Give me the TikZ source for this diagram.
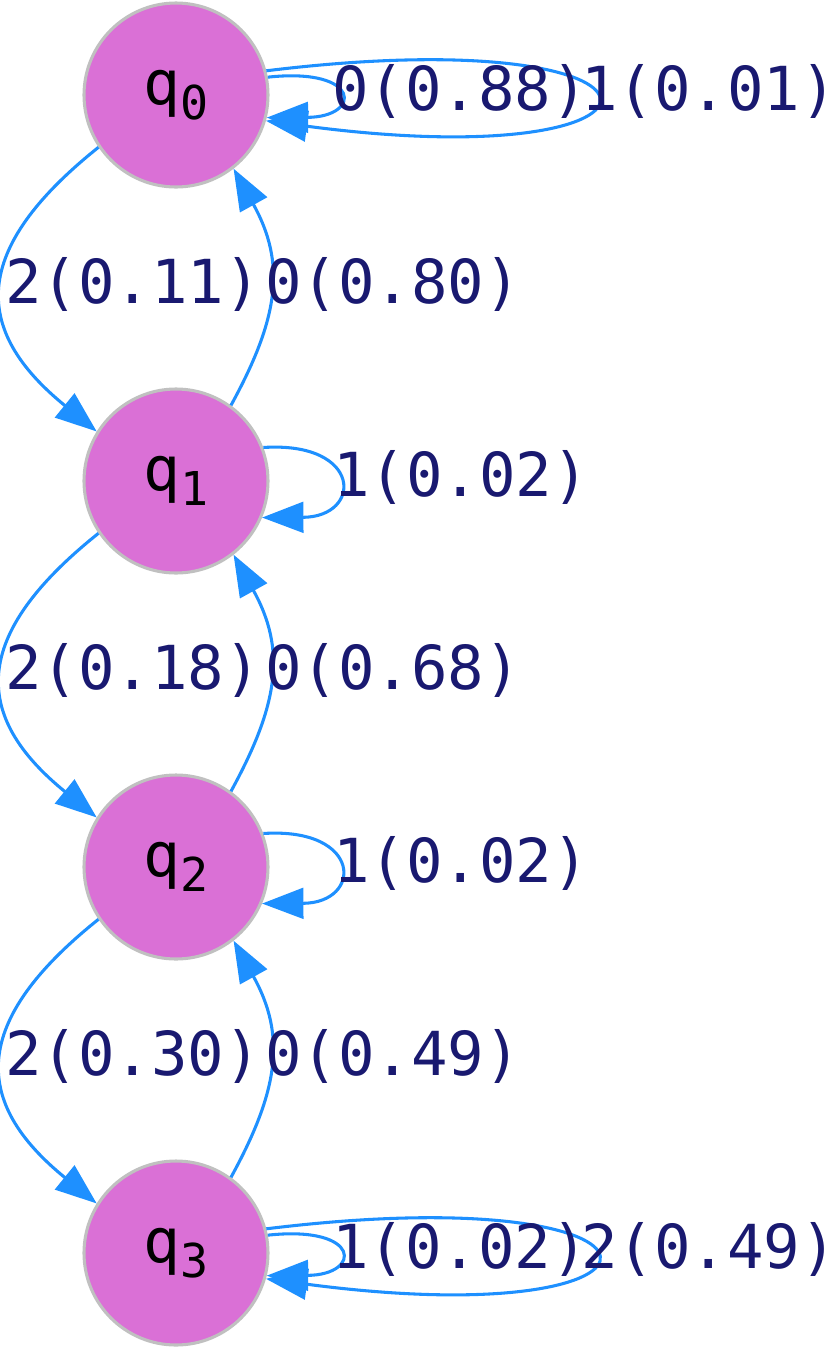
\documentclass[tikz,border=0pt]{standalone}
\usepackage{fontspec}
\setmainfont{DejaVu Sans Mono}
\usetikzlibrary{arrows.meta,calc}
\definecolor{nodefill}{HTML}{DA70D6}
\definecolor{nodeline}{HTML}{C0C0C0}
\definecolor{edgecol}{HTML}{1E90FF}
\definecolor{labcol}{HTML}{191970}
\newcommand{\stname}[1]{q\raisebox{-11pt}{\fontsize{35}{35}\selectfont #1}}
\begin{document}
\begin{tikzpicture}[x=0.75pt,y=-0.75pt,
  st/.style={circle,draw=nodeline,fill=nodefill,line width=2.3pt,minimum size=138pt,inner sep=0pt,font=\fontsize{46}{46}\selectfont,text=black},
  edge/.style={draw=edgecol,line width=2.3pt,-{Triangle[length=31pt,width=23pt]}},
  lbl/.style={anchor=base,inner sep=0pt,text=labcol,font=\fontsize{45.5}{45.5}\selectfont}]
\useasboundingbox (0,0) rectangle (837,1350);
\node[st] (q0) at (176,95) {\stname{0}};
\node[st] (q1) at (176,481) {\stname{1}};
\node[st] (q2) at (176,867) {\stname{2}};
\node[st] (q3) at (176,1253) {\stname{3}};
% self loops q0
\draw[edge] (q0.11) .. controls ($(q0)+(186,-28)$) and ($(q0)+(186,22)$) .. (q0.-14);
\draw[edge] (q0.15) .. controls ($(q0)+(529,-78)$) and ($(q0)+(529,84)$) .. (q0.-16);
\node[lbl] (l00) at (460,110) {0(0.88)};
\node[lbl,anchor=base east] (l01) at (837,110) {1(0.01)};
% q0 <-> q1
\draw[edge] (q0.214) .. controls ($(q0)+(-206,155)$) and ($(q1)+(-204,-151)$) .. (q1.148);
\draw[edge] (q1.54) .. controls ($(q1)+(102.5,-162.5)$) and ($(q0)+(110.5,169)$) .. (q0.-52);
\node[lbl] (l02) at (133,303) {2(0.11)};
\node[lbl] (l10) at (393,303) {0(0.80)};
% q1 loop
\draw[edge] (q1.21) .. controls ($(q1)+(187,-40)$) and ($(q1)+(187,36)$) .. (q1.-23);
\node[lbl] (l11) at (461,496) {1(0.02)};
% q1 <-> q2
\draw[edge] (q1.214) .. controls ($(q1)+(-206,155)$) and ($(q2)+(-204,-151)$) .. (q2.148);
\draw[edge] (q2.54) .. controls ($(q2)+(102.5,-162.5)$) and ($(q1)+(110.5,169)$) .. (q1.-52);
\node[lbl] (l12) at (133,689) {2(0.18)};
\node[lbl] (l21) at (393,689) {0(0.68)};
% q2 loop
\draw[edge] (q2.21) .. controls ($(q2)+(187,-40)$) and ($(q2)+(187,36)$) .. (q2.-23);
\node[lbl] (l22) at (461,882) {1(0.02)};
% q2 <-> q3
\draw[edge] (q2.214) .. controls ($(q2)+(-206,155)$) and ($(q3)+(-204,-151)$) .. (q3.148);
\draw[edge] (q3.54) .. controls ($(q3)+(102.5,-162.5)$) and ($(q2)+(110.5,169)$) .. (q2.-52);
\node[lbl] (l23) at (133,1075) {2(0.30)};
\node[lbl] (l32) at (393,1075) {0(0.49)};
% self loops q3
\draw[edge] (q3.11) .. controls ($(q3)+(186,-28)$) and ($(q3)+(186,22)$) .. (q3.-14);
\draw[edge] (q3.15) .. controls ($(q3)+(529,-78)$) and ($(q3)+(529,84)$) .. (q3.-16);
\node[lbl] (l33a) at (460,1268) {1(0.02)};
\node[lbl,anchor=base east] (l33b) at (837,1268) {2(0.49)};
\end{tikzpicture}
\end{document}
